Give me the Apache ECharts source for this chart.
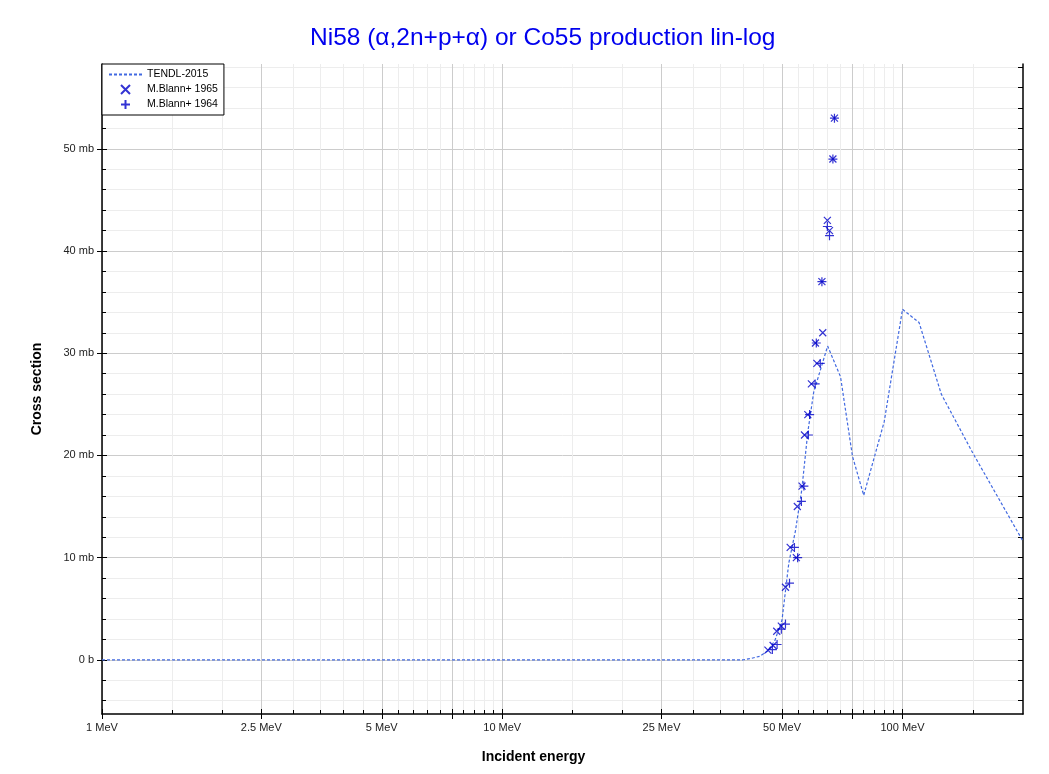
<!DOCTYPE html>
<html>
<head>
<meta charset="utf-8">
<title>Ni58 (α,2n+p+α) or Co55 production lin-log</title>
<script src="https://cdn.jsdelivr.net/npm/echarts@6/dist/echarts.min.js"></script>
<style>
    html, body { margin: 0; padding: 0; background: #ffffff; }
    #chart_main { width: 1049px; height: 774px; }
</style>
</head>
<body>
<div id="chart_main"></div>
<script>
/* TENDL-2015 evaluation, energy in MeV, cross section in mb */
var tendlEnergy = [1, 40, 42, 44, 46, 48, 50, 52, 54, 56, 58, 60, 65, 70, 75, 80, 90, 100, 110, 125, 150, 200];
var tendlXs = [0, 0, 0.15, 0.35, 0.85, 1.9, 3.9, 9.5, 12.6, 16.6, 22.3, 26.2, 30.7, 27.7, 19.9, 16.1, 23.3, 34.3, 33.0, 26.0, 20.2, 11.6];

/* M.Blann+ 1965 */
var blann65Energy = [46.1, 47.5, 48.5, 49.8, 51.0, 52.4, 54.3, 54.6, 56.1, 56.9, 58.0, 59.2, 60.6, 61.1, 63.2, 62.9, 64.9, 65.7, 67.0, 67.6];
var blann65Xs = [0.95, 1.4, 2.8, 3.3, 7.1, 11.0, 10.0, 15.0, 17.0, 22.0, 24.0, 27.0, 31.0, 29.0, 32.0, 37.0, 43.0, 42.0, 49.0, 53.0];

/* M.Blann+ 1964 */
var blann64Energy = [47.3, 48.6, 49.8, 51.0, 52.2, 53.7, 54.7, 55.9, 56.7, 58.2, 58.6, 60.5, 62.3, 60.9, 62.9, 64.9, 65.7, 67.0, 67.6];
var blann64Xs = [1.0, 1.5, 3.0, 3.5, 7.5, 11.0, 10.0, 15.5, 17.0, 22.0, 24.0, 27.0, 29.0, 31.0, 37.0, 42.4, 41.5, 49.0, 53.0];

/* ticks */
var xLabelTicks = [1, 2.5, 5, 10, 25, 50, 100];
var xMajorTicks = [1, 2.5, 5, 7.5, 10, 25, 50, 75, 100];
var xMinorTicks = [1.5, 2, 3, 3.5, 4, 4.5, 5.5, 6, 6.5, 7, 8, 8.5, 9, 9.5,
    15, 20, 30, 35, 40, 45, 55, 60, 65, 70, 80, 85, 90, 95, 150];
var yMajorTicks = [0, 10, 20, 30, 40, 50];
var yMinorTicks = [-4, -2, 2, 4, 6, 8, 12, 14, 16, 18, 22, 24, 26, 28, 32, 34, 36, 38, 42, 44, 46, 48, 52, 54, 56, 58];
var yRightTicks = [-4, -2, 0, 2, 4, 6, 8, 10, 12, 14, 16, 18, 20, 22, 24, 26, 28, 30, 32, 34, 36, 38, 40, 42, 44, 46, 48, 50, 52, 54, 56, 58];

var xMin = 1, xMax = 200;
var yMin = -5.3, yMax = 58.3;

var fontName = 'Liberation Sans, Arial, sans-serif';
var markColor = '#0000c8';
var lineColor = '#4169e1';

function pairUp(xs, ys) {
    var out = [];
    for (var i = 0; i < xs.length; i++) {
        out.push([xs[i], ys[i]]);
    }
    return out;
}

function hiddenParts(axis) {
    axis.axisLine = axis.axisLine || { show: false };
    axis.axisLine.onZero = false;
    axis.axisTick = axis.axisTick || { show: false };
    axis.axisLabel = axis.axisLabel || { show: false };
    axis.splitLine = axis.splitLine || { show: false };
    axis.minorTick = { show: false };
    axis.minorSplitLine = { show: false };
    return axis;
}

function xAxisOf(extra) {
    var axis = { type: 'log', logBase: 10, min: xMin, max: xMax, position: 'bottom', gridIndex: 0 };
    for (var k in extra) axis[k] = extra[k];
    return hiddenParts(axis);
}

function yAxisOf(extra) {
    var axis = { type: 'value', min: yMin, max: yMax, position: 'left', gridIndex: 0 };
    for (var k in extra) axis[k] = extra[k];
    return hiddenParts(axis);
}

var chart_main = echarts.init(document.getElementById('chart_main'));

var option = {
    backgroundColor: '#ffffff',
    animation: false,
    title: {
        text: 'Ni58 (α,2n+p+α) or Co55 production lin-log',
        left: 305,
        top: 21,
        textStyle: { color: '#0000ee', fontSize: 24.5, fontWeight: 'normal', fontFamily: fontName }
    },
    legend: {
        orient: 'vertical',
        left: 102,
        top: 64,
        padding: [5, 6, 5, 6],
        itemGap: 4,
        itemWidth: 33,
        itemHeight: 9,
        backgroundColor: '#ffffff',
        borderColor: '#000000',
        borderWidth: 1,
        borderRadius: 0,
        textStyle: { fontSize: 10.5, color: '#000000', fontFamily: fontName },
        data: [
            { name: 'TENDL-2015', itemStyle: { opacity: 0 } },
            'M.Blann+ 1965',
            'M.Blann+ 1964'
        ]
    },
    grid: { left: 102, right: 26, top: 64, bottom: 60, containLabel: false },
    xAxis: [
        xAxisOf({
            name: 'Incident energy',
            nameLocation: 'middle',
            nameGap: 36,
            nameTextStyle: { fontSize: 14, fontWeight: 'bold', color: '#000', fontFamily: fontName, padding: [0, 58, 0, 0] },
            axisLine: { show: true, lineStyle: { color: '#000', width: 1.5 } },
            axisTick: { show: true, inside: false, length: 5, customValues: xMajorTicks, lineStyle: { color: '#000' } },
            axisLabel: {
                show: true, margin: 8, fontSize: 11, color: '#222', fontFamily: fontName,
                customValues: xLabelTicks,
                formatter: function (v) { return v + ' MeV'; }
            },
            splitLine: { show: true, lineStyle: { color: '#cccccc', width: 1 } }
        }),
        xAxisOf({
            axisTick: { show: true, inside: true, length: 5, customValues: xMajorTicks, lineStyle: { color: '#000' } }
        }),
        xAxisOf({
            axisTick: { show: true, inside: true, length: 4, customValues: xMinorTicks, lineStyle: { color: '#000' } },
            splitLine: { show: true, lineStyle: { color: '#ededed', width: 1 } }
        })
    ],
    yAxis: [
        yAxisOf({
            name: 'Cross section',
            nameLocation: 'middle',
            nameGap: 58,
            nameTextStyle: { fontSize: 14, fontWeight: 'bold', color: '#000', fontFamily: fontName },
            axisLine: { show: true, lineStyle: { color: '#000', width: 1.5 } },
            axisTick: { show: true, inside: false, length: 5, customValues: yMajorTicks, lineStyle: { color: '#000' } },
            axisLabel: {
                show: true, margin: 8, fontSize: 11, color: '#222', fontFamily: fontName,
                customValues: yMajorTicks,
                formatter: function (v) { return v === 0 ? '0 b' : v + ' mb'; }
            },
            splitLine: { show: true, lineStyle: { color: '#cccccc', width: 1 } }
        }),
        yAxisOf({
            axisTick: { show: true, inside: true, length: 5, customValues: yMajorTicks, lineStyle: { color: '#000' } }
        }),
        yAxisOf({
            axisTick: { show: true, inside: true, length: 4, customValues: yMinorTicks, lineStyle: { color: '#000' } },
            splitLine: { show: true, lineStyle: { color: '#ededed', width: 1 } }
        }),
        yAxisOf({
            position: 'right',
            axisLine: { show: true, lineStyle: { color: '#000', width: 1.5 } },
            axisTick: { show: true, inside: true, length: 5, customValues: yRightTicks, lineStyle: { color: '#000' } }
        })
    ],
    series: [
        {
            name: 'TENDL-2015',
            type: 'line',
            xAxisIndex: 0,
            yAxisIndex: 0,
            symbol: 'none',
            showSymbol: false,
            z: 3,
            lineStyle: { color: lineColor, width: 1.2, type: [3, 2] },
            itemStyle: { color: lineColor },
            data: pairUp(tendlEnergy, tendlXs)
        },
        {
            name: 'M.Blann+ 1965',
            type: 'scatter',
            xAxisIndex: 0,
            yAxisIndex: 0,
            symbol: 'path://M0,0L10,10M10,0L0,10',
            symbolSize: 7,
            z: 4,
            itemStyle: { color: markColor, borderColor: markColor, borderWidth: 1.2 },
            data: pairUp(blann65Energy, blann65Xs)
        },
        {
            name: 'M.Blann+ 1964',
            type: 'scatter',
            xAxisIndex: 0,
            yAxisIndex: 0,
            symbol: 'path://M5,0L5,10M0,5L10,5',
            symbolSize: 9,
            z: 4,
            itemStyle: { color: markColor, borderColor: markColor, borderWidth: 1.2 },
            data: pairUp(blann64Energy, blann64Xs)
        }
    ]
};

chart_main.setOption(option);
</script>
</body>
</html>
